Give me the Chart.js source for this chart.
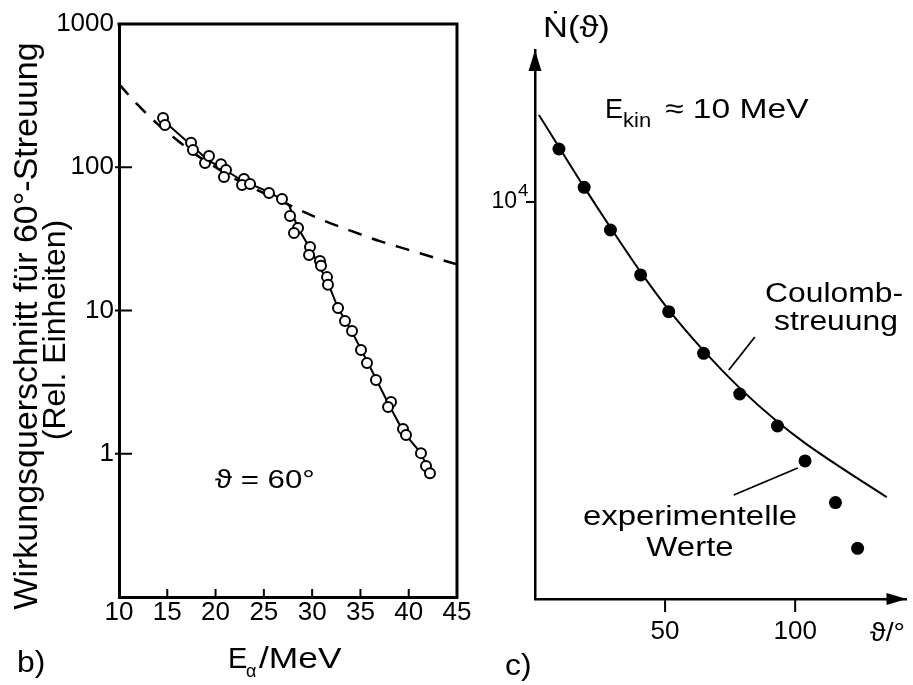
<!DOCTYPE html>
<html>
<head>
<meta charset="utf-8">
<script src="https://cdn.jsdelivr.net/npm/chart.js@4.4.1/dist/chart.umd.min.js"></script>
<style>
  body { margin: 0; background: #fff; width: 913px; height: 685px; position: relative; overflow: hidden; }
  canvas { position: absolute; top: 0; }
  #chartB { left: 0; }
  #chartC { left: 460px; }
</style>
</head>
<body>
<canvas id="chartB" width="490" height="685"></canvas>
<canvas id="chartC" width="453" height="685"></canvas>
<script>
// --- Teil b): Wirkungsquerschnitt bei 60° ---
const energieMessung = [14.56, 14.76, 17.46, 17.66, 18.91, 19.32, 20.56, 21.08, 20.87, 22.94, 22.74, 23.57,
  25.53, 26.88, 27.71, 28.54, 28.12, 29.78, 29.68, 30.81, 30.92, 31.54, 31.64, 32.68, 33.40, 34.13,
  35.06, 35.68, 36.61, 38.17, 37.86, 39.41, 39.72, 41.27, 41.79, 42.20];
const wqMessung = [221, 197, 148, 132, 107, 120, 105, 95.7, 85.5, 82.8, 75.2, 76.4,
  66.1, 60.0, 45.7, 37.7, 34.8, 27.7, 24.4, 22.2, 20.5, 17.1, 15.1, 10.4, 8.45, 7.19,
  5.30, 4.30, 3.27, 2.30, 2.12, 1.49, 1.35, 1.01, 0.82, 0.73];
const energieFit = [14.5, 17.46, 19.22, 21.29, 22.63, 25.53, 26.98, 27.6, 28.54, 29.88, 31.64, 32.68,
  34.03, 35.79, 37.96, 39.51, 41.27, 42.31];
const wqFit = [215, 143, 112, 93, 81.5, 67, 59, 54.5, 37.7, 26.4, 15.6, 10.4, 7.3, 4.3, 2.19, 1.4, 1.01, 0.70];
const energieCoulomb = [10, 12, 14, 16, 18, 20, 22, 25, 28, 31, 34, 37, 40, 43, 45];
const wqCoulomb = [380, 270, 200, 155, 122, 100, 83, 66, 53, 43, 36, 30.5, 26.5, 23, 21];
const tickEnergie = [10, 15, 20, 25, 30, 35, 40, 45];
const tickWq = [1, 10, 100, 1000];

// --- Teil c): Zählrate gegen Streuwinkel ---
const winkelMessung = [9.2, 18.9, 29.0, 40.6, 51.4, 64.8, 78.7, 93.2, 103.8, 115.5, 124.0];
const nMessung = [18490, 11860, 7228, 4289, 2802, 1729, 1078, 744, 496, 306, 180];
const winkelCoulomb = [1.5, 9.5, 18.9, 29.2, 40.5, 51.1, 64.8, 78.8, 93.2, 103.8, 123.1, 135.2];
const nCoulomb = [27440, 18660, 11880, 7379, 4456, 2894, 1782, 1151, 781, 610, 412, 326];
const tickWinkel = [50, 100];
const tickN = [10000];

const FONT = '"Liberation Sans", Arial, Helvetica, sans-serif';
const paare = (xs, ys) => xs.map((x, i) => ({ x, y: ys[i] }));

function schrift(ctx, text, x, y, size, align, sx) {
  ctx.save();
  ctx.font = size + 'px ' + FONT;
  ctx.fillStyle = '#000';
  ctx.textAlign = align || 'left';
  ctx.textBaseline = 'alphabetic';
  ctx.translate(x, y);
  ctx.scale(sx || 1, 1);
  ctx.fillText(text, 0, 0);
  ctx.restore();
}

function strich(ctx, x1, y1, x2, y2, w) {
  ctx.lineWidth = w || 2;
  ctx.beginPath();
  ctx.moveTo(x1, y1);
  ctx.lineTo(x2, y2);
  ctx.stroke();
}

const extrasB = {
  id: 'extrasB',
  afterDraw(chart) {
    const { ctx, chartArea: a, scales: { x, y } } = chart;
    ctx.save();
    ctx.strokeStyle = '#000';
    ctx.lineCap = 'square';
    ctx.lineWidth = 3;
    ctx.beginPath();
    ctx.moveTo(a.left, a.top);
    ctx.lineTo(a.right, a.top);
    ctx.lineTo(a.right, a.bottom);
    ctx.stroke();
    ctx.lineCap = 'butt';
    tickWq.slice(0, 3).forEach(v => {
      const py = y.getPixelForValue(v);
      strich(ctx, a.left - 4, py, a.left + 13, py, 2);
    });
    tickEnergie.slice(1, -1).forEach(v => {
      const px = x.getPixelForValue(v);
      strich(ctx, px, a.bottom, px, a.bottom - 8, 2);
    });
    ctx.restore();

    // Achsentitel (gedreht)
    ctx.save();
    ctx.translate(37, 326);
    ctx.rotate(-Math.PI / 2);
    schrift(ctx, 'Wirkungsquerschnitt für 60°-Streuung', 0, 0, 34, 'center');
    ctx.restore();
    ctx.save();
    ctx.translate(65, 330);
    ctx.rotate(-Math.PI / 2);
    schrift(ctx, '(Rel. Einheiten)', 0, 0, 32, 'center');
    ctx.restore();

    schrift(ctx, 'E', 228, 668, 29, 'left', 1.0);
    schrift(ctx, 'α', 246, 677, 18, 'left', 1.0);
    schrift(ctx, '/MeV', 259, 668, 29, 'left', 1.22);
    schrift(ctx, 'ϑ = 60°', 215, 488, 26, 'left', 1.2);
    schrift(ctx, 'b)', 17, 672, 29, 'left', 1.1);
  }
};

const extrasC = {
  id: 'extrasC',
  afterDraw(chart) {
    const { ctx, chartArea: a, scales: { x, y } } = chart;
    ctx.save();
    ctx.strokeStyle = '#000';
    ctx.fillStyle = '#000';
    // Pfeilspitzen
    ctx.beginPath();
    ctx.moveTo(a.left, a.top);
    ctx.lineTo(a.left - 6.5, a.top + 21);
    ctx.lineTo(a.left + 6.5, a.top + 21);
    ctx.closePath();
    ctx.fill();
    ctx.beginPath();
    ctx.moveTo(a.right, a.bottom);
    ctx.lineTo(a.right - 20, a.bottom - 6);
    ctx.lineTo(a.right - 20, a.bottom + 6);
    ctx.closePath();
    ctx.fill();
    tickWinkel.forEach(v => {
      const px = x.getPixelForValue(v);
      strich(ctx, px, a.bottom, px, a.bottom + 13, 2);
    });
    tickN.forEach(v => {
      const py = y.getPixelForValue(v);
      strich(ctx, a.left - 9, py, a.left, py, 2);
      // Exponent zur Beschriftung 10^4
      schrift(ctx, '4', a.left - 17, py - 6, 17, 'left', 1.1);
    });
    // Hinweislinien
    ctx.lineWidth = 1.8;
    ctx.beginPath();
    ctx.moveTo(x.getPixelForValue(84.5), y.getPixelForValue(2090));
    ctx.lineTo(x.getPixelForValue(74.5), y.getPixelForValue(1425));
    ctx.stroke();
    ctx.beginPath();
    ctx.moveTo(x.getPixelForValue(76.4), y.getPixelForValue(334));
    ctx.lineTo(x.getPixelForValue(101.0), y.getPixelForValue(457));
    ctx.stroke();
    ctx.restore();

    schrift(ctx, 'Ṅ(ϑ)', 83, 37, 30, 'left', 1.15);
    schrift(ctx, 'E', 145, 118, 27, 'left', 1.0);
    schrift(ctx, 'kin', 163, 127, 20, 'left', 1.1);
    schrift(ctx, '≈ 10 MeV', 205, 118, 28, 'left', 1.2);
    schrift(ctx, 'Coulomb-', 374, 302, 27, 'center', 1.18);
    schrift(ctx, 'streuung', 376, 330, 27, 'center', 1.18);
    schrift(ctx, 'experimentelle', 230, 525, 27, 'center', 1.22);
    schrift(ctx, 'Werte', 230, 556, 27, 'center', 1.22);
    schrift(ctx, 'ϑ/°', 410, 641, 26, 'left', 1.1);
    schrift(ctx, 'c)', 45, 675, 29, 'left', 1.1);
  }
};

const achsenFont = size => ({ family: FONT, size });

new Chart(document.getElementById('chartB'), {
  type: 'scatter',
  data: {
    datasets: [
      { label: 'Messwerte', data: paare(energieMessung, wqMessung), showLine: false,
        pointRadius: 5, pointBackgroundColor: '#fff', pointBorderColor: '#000', pointBorderWidth: 2 },
      { label: 'Anpassung', data: paare(energieFit, wqFit), showLine: true, pointRadius: 0,
        borderColor: '#000', borderWidth: 2 },
      { label: 'Coulomb', data: paare(energieCoulomb, wqCoulomb), showLine: true, pointRadius: 0,
        borderColor: '#000', borderWidth: 2.5, borderDash: [14, 11], cubicInterpolationMode: 'monotone' }
    ]
  },
  options: {
    responsive: false, animation: false, devicePixelRatio: 1,
    layout: { padding: { top: 24, right: 33, left: 0, bottom: 0 } },
    plugins: { legend: { display: false }, tooltip: { enabled: false } },
    scales: {
      x: {
        type: 'linear', min: 10, max: 45,
        grid: { display: false, drawTicks: false },
        border: { color: '#000', width: 3 },
        afterBuildTicks: s => { s.ticks = tickEnergie.map(v => ({ value: v })); },
        afterFit: s => { s.height = 88; },
        ticks: { color: '#000', font: achsenFont(26), padding: 0, maxRotation: 0, autoSkip: false }
      },
      y: {
        type: 'logarithmic', min: 0.1, max: 1000,
        grid: { display: false, drawTicks: false },
        border: { color: '#000', width: 3 },
        afterBuildTicks: s => { s.ticks = tickWq.map(v => ({ value: v })); },
        afterFit: s => { s.width = 119; },
        ticks: { color: '#000', font: achsenFont(26), padding: 5, autoSkip: false, callback: v => String(v) }
      }
    }
  },
  plugins: [extrasB]
});

new Chart(document.getElementById('chartC'), {
  type: 'scatter',
  data: {
    datasets: [
      { label: 'experimentelle Werte', data: paare(winkelMessung, nMessung), showLine: false,
        pointRadius: 6.5, pointBackgroundColor: '#000', pointBorderColor: '#000', pointBorderWidth: 0 },
      { label: 'Coulombstreuung', data: paare(winkelCoulomb, nCoulomb), showLine: true, pointRadius: 0,
        borderColor: '#000', borderWidth: 2, cubicInterpolationMode: 'monotone' }
    ]
  },
  options: {
    responsive: false, animation: false, devicePixelRatio: 1,
    layout: { padding: { top: 50, right: 1, left: 0, bottom: 0 } },
    plugins: { legend: { display: false }, tooltip: { enabled: false } },
    scales: {
      x: {
        type: 'linear', min: 0, max: 142.8,
        grid: { display: false, drawTicks: false },
        border: { color: '#000', width: 2.5 },
        afterBuildTicks: s => { s.ticks = tickWinkel.map(v => ({ value: v })); },
        afterFit: s => { s.height = 86; },
        ticks: { color: '#000', font: achsenFont(26), padding: 17, maxRotation: 0, autoSkip: false }
      },
      y: {
        type: 'logarithmic', min: 100, max: 58300,
        grid: { display: false, drawTicks: false },
        border: { color: '#000', width: 2.5 },
        afterBuildTicks: s => { s.ticks = tickN.map(v => ({ value: v })); },
        afterFit: s => { s.width = 75; },
        ticks: { color: '#000', font: achsenFont(23), padding: 18, autoSkip: false, callback: () => '10' }
      }
    }
  },
  plugins: [extrasC]
});
</script>
</body>
</html>
